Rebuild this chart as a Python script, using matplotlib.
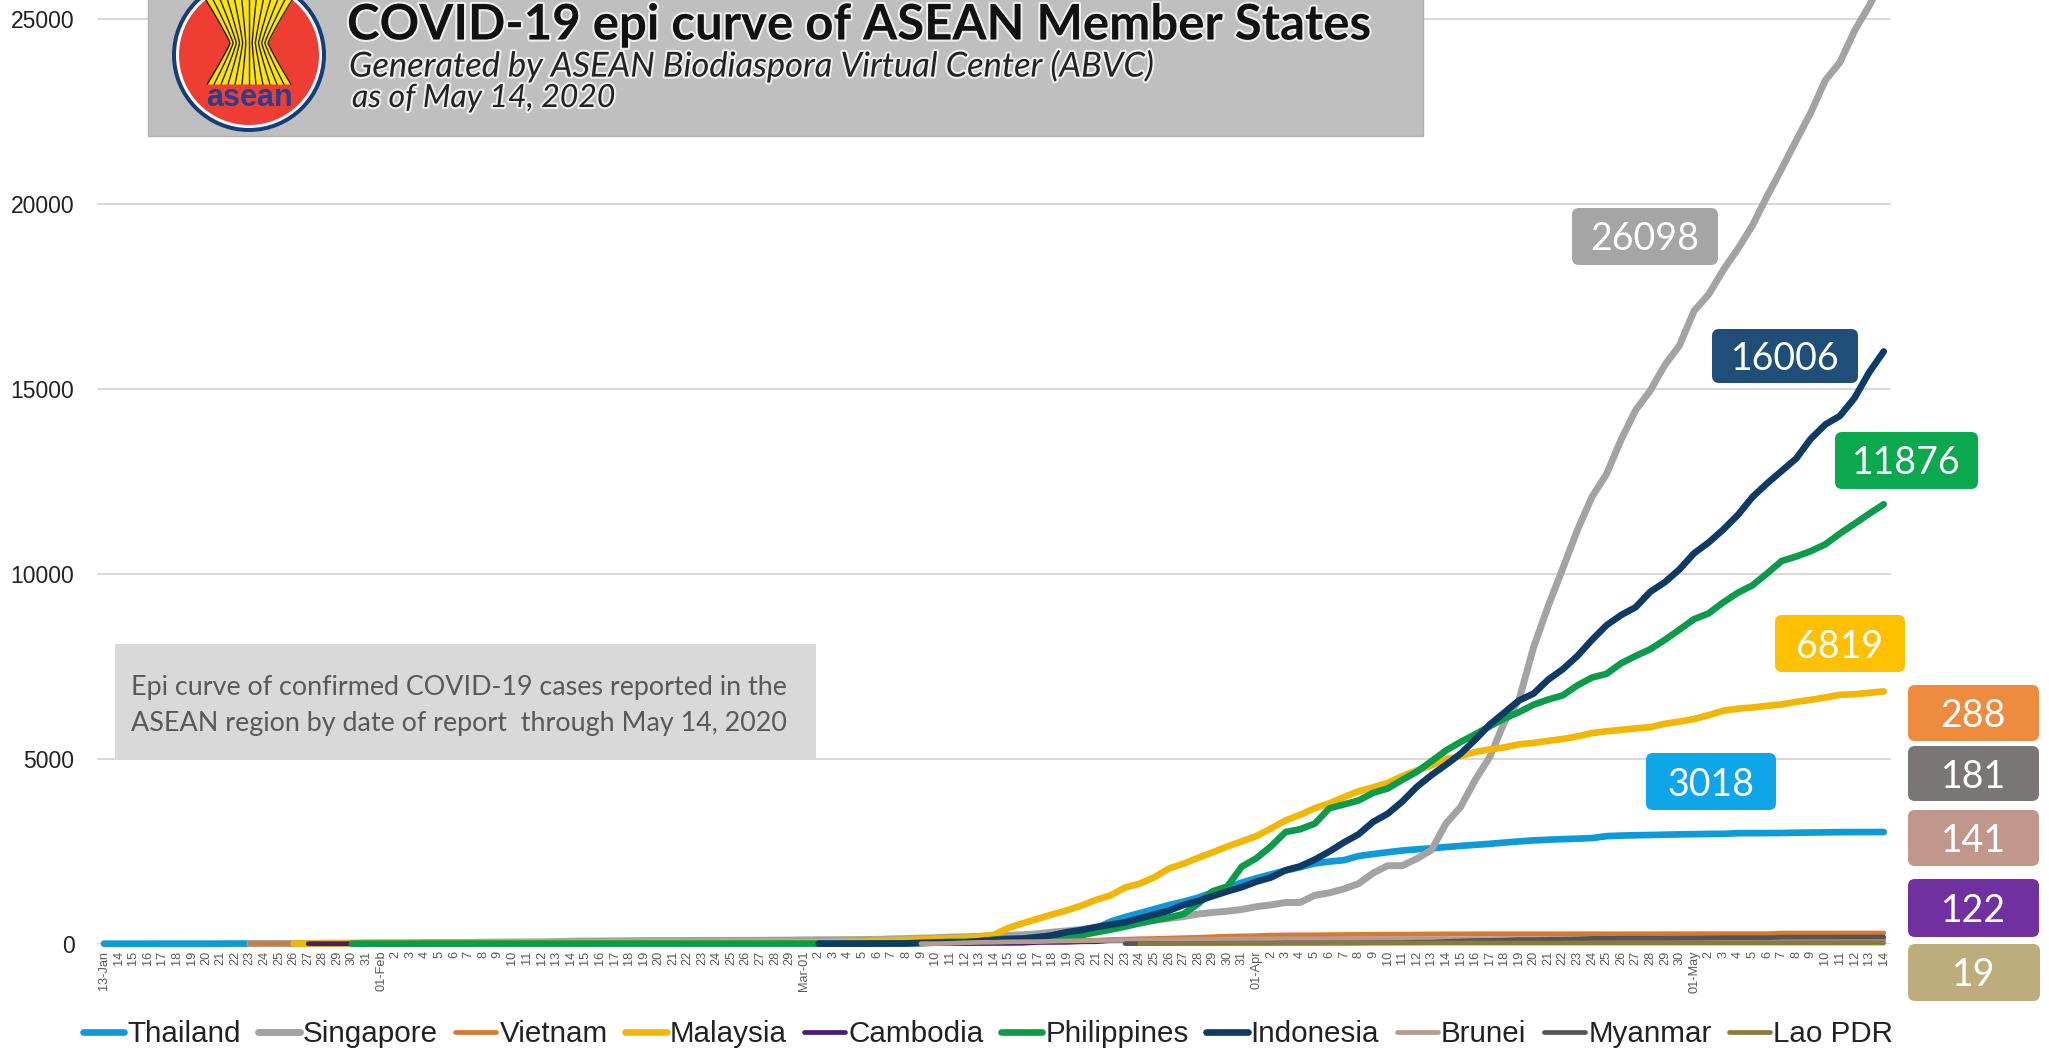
import numpy as np
import matplotlib
matplotlib.use('Agg')
import matplotlib.pyplot as plt
import matplotlib.patheffects as pe
from matplotlib.patches import Circle, FancyBboxPatch, Rectangle

W, H = 2049, 1052
N_DAYS = 123

# tick labels, one per day from 13 Jan to 14 May
jan_days = ['13-Jan'] + [str(d) for d in range(14, 32)]
feb_days = ['01-Feb'] + [str(d) for d in range(2, 30)]
mar_days = ['Mar-01'] + [str(d) for d in range(2, 32)]
apr_days = ['01-Apr'] + [str(d) for d in range(2, 31)]
may_days = ['01-May'] + [str(d) for d in range(2, 15)]
day_labels = jan_days + feb_days + mar_days + apr_days + may_days

y_ticks = [0, 5000, 10000, 15000, 20000, 25000]

# cumulative cases, each list runs up to 14 May
thailand = [1, 1, 1, 1, 2, 2, 2, 2, 2, 4, 4, 5, 7, 8, 8, 14, 14, 14, 19,
            19, 19, 19, 25, 25, 25, 25, 32, 32, 32, 33, 33, 33, 33, 34, 34, 35, 35, 35, 35, 35, 35, 35, 37, 37, 40, 40, 41, 42,
            42, 43, 43, 43, 47, 48, 50, 50, 50, 53, 59, 70, 75, 82, 114, 147, 177, 212, 272, 322, 411, 599, 721, 827, 934, 1045, 1136, 1245, 1388, 1524, 1651,
            1771, 1875, 1978, 2067, 2169, 2220, 2258, 2369, 2423, 2473, 2518, 2551, 2579, 2613, 2643, 2672, 2700, 2733, 2765, 2792, 2811, 2826, 2839, 2854, 2907, 2922, 2931, 2938, 2947, 2954,
            2960, 2966, 2969, 2987, 2988, 2989, 2992, 3000, 3004, 3009, 3015, 3017, 3017, 3018]
singapore = [1, 3, 3, 4, 5, 7, 7, 10, 13,
             16, 18, 18, 24, 28, 30, 33, 40, 43, 45, 47, 50, 58, 67, 72, 75, 77, 81, 84, 84, 85, 86, 89, 89, 90, 91, 93, 96, 98,
             102, 106, 108, 110, 112, 117, 130, 138, 150, 160, 178, 187, 200, 212, 226, 243, 266, 313, 345, 385, 432, 455, 509, 558, 631, 683, 732, 802, 844, 879, 926,
             1000, 1049, 1114, 1114, 1309, 1375, 1481, 1623, 1910, 2108, 2108, 2299, 2532, 3252, 3699, 4427, 5050, 5992, 6588, 8014, 9125, 10141, 11178, 12075, 12693, 13624, 14423, 14951, 15641, 16169,
             17101, 17548, 18205, 18778, 19410, 20198, 20939, 21707, 22460, 23336, 23822, 24671, 25346, 26098]
vietnam = [2, 2, 2, 2, 2, 2, 2, 2, 5,
           6, 6, 8, 9, 10, 12, 12, 13, 14, 14, 15, 15, 16, 16, 16, 16, 16, 16, 16, 16, 16, 16, 16, 16, 16, 16, 16, 16, 16,
           16, 16, 16, 16, 16, 16, 18, 21, 30, 31, 38, 39, 47, 53, 57, 61, 66, 76, 85, 91, 94, 113, 123, 134, 141, 153, 163, 174, 188, 203, 212,
           218, 233, 237, 240, 241, 245, 249, 251, 255, 257, 258, 262, 265, 266, 267, 268, 268, 268, 268, 268, 268, 268, 268, 268, 268, 268, 268, 268, 270, 270,
           270, 271, 271, 271, 271, 271, 288, 288, 288, 288, 288, 288, 288, 288]
malaysia = [4, 4, 4, 7, 7, 8,
            8, 8, 8, 10, 12, 14, 14, 16, 17, 18, 18, 18, 18, 18, 19, 22, 22, 22, 22, 22, 22, 22, 22, 22, 22, 22, 23, 25, 25,
            29, 29, 36, 50, 55, 83, 93, 99, 117, 129, 149, 158, 197, 238, 428, 553, 673, 790, 900, 1030, 1183, 1306, 1518, 1624, 1796, 2031, 2161, 2320, 2470, 2626, 2766,
            2908, 3116, 3333, 3483, 3662, 3793, 3963, 4119, 4228, 4346, 4530, 4683, 4817, 4987, 5072, 5182, 5251, 5305, 5389, 5425, 5482, 5532, 5603, 5691, 5742, 5780, 5820, 5851, 5945, 6002,
            6071, 6176, 6298, 6353, 6383, 6428, 6467, 6535, 6589, 6656, 6726, 6742, 6779, 6819]
cambodia = [1, 1, 1, 1, 1,
            1, 1, 1, 1, 1, 1, 1, 1, 1, 1, 1, 1, 1, 1, 1, 1, 1, 1, 1, 1, 1, 1, 1, 1, 1, 1, 1, 1, 1,
            1, 1, 1, 1, 1, 1, 2, 2, 2, 3, 3, 5, 5, 7, 7, 12, 33, 35, 37, 51, 53, 84, 87, 91, 96, 96, 99, 103, 107, 107, 109,
            110, 110, 114, 114, 114, 115, 115, 117, 119, 119, 120, 122, 122, 122, 122, 122, 122, 122, 122, 122, 122, 122, 122, 122, 122, 122, 122, 122, 122, 122,
            122, 122, 122, 122, 122, 122, 122, 122, 122, 122, 122, 122, 122, 122]
philippines = [1, 1,
               1, 2, 2, 2, 3, 3, 3, 3, 3, 3, 3, 3, 3, 3, 3, 3, 3, 3, 3, 3, 3, 3, 3, 3, 3, 3, 3, 3, 3,
               3, 3, 3, 3, 3, 5, 6, 10, 20, 33, 49, 52, 64, 111, 140, 142, 187, 202, 217, 230, 307, 380, 462, 552, 636, 707, 803, 1075, 1418, 1546, 2084,
               2311, 2633, 3018, 3094, 3246, 3660, 3764, 3870, 4076, 4195, 4428, 4648, 4932, 5223, 5453, 5660, 5878, 6087, 6259, 6459, 6599, 6710, 6981, 7192, 7294, 7579, 7777, 7958, 8212, 8488,
               8772, 8928, 9223, 9485, 9684, 10004, 10343, 10463, 10610, 10794, 11086, 11350, 11618, 11876]
indonesia = [2, 2, 2, 2, 4, 4, 6, 19, 27, 34, 34, 69, 96, 117, 134, 172, 227, 311, 369, 450, 514, 579, 686, 790, 893, 1046, 1155, 1285, 1414, 1528,
             1677, 1790, 1986, 2092, 2273, 2491, 2738, 2956, 3293, 3512, 3842, 4241, 4557, 4839, 5136, 5516, 5923, 6248, 6575, 6760, 7135, 7418, 7775, 8211, 8607, 8882, 9096, 9511, 9771, 10118,
             10551, 10843, 11192, 11587, 12071, 12438, 12776, 13112, 13645, 14032, 14265, 14749, 15438, 16006]
brunei = [1, 1, 11, 25, 37, 40, 50, 54, 56, 68, 75, 78, 83, 88, 91, 104, 109, 114, 115, 120, 120, 126, 127,
          129, 131, 133, 134, 135, 135, 135, 135, 135, 136, 136, 136, 136, 136, 136, 136, 136, 138, 138, 138, 138, 138, 138, 138, 138, 138, 138, 138, 138, 138,
          138, 138, 138, 138, 138, 141, 141, 141, 141, 141, 141, 141, 141, 141]
myanmar = [2, 3, 5, 8, 8, 10, 10, 14, 14,
           15, 15, 20, 21, 21, 22, 22, 22, 27, 27, 28, 39, 41, 62, 74, 85, 88, 94, 111, 111, 119, 121, 127, 144, 144, 146, 146, 146, 146, 150,
           151, 155, 161, 161, 161, 161, 176, 177, 178, 178, 180, 180, 180, 181]
lao = [2, 3, 6, 6, 8, 8, 9, 10,
       10, 10, 10, 11, 11, 12, 12, 15, 16, 16, 16, 16, 18, 19, 19, 19, 19, 19, 19, 19, 19, 19, 19, 19, 19, 19, 19, 19, 19, 19,
       19, 19, 19, 19, 19, 19, 19, 19, 19, 19, 19, 19, 19, 19]

# name, values, first day index, colour, line width
series = [
    ('Thailand', thailand, 0, '#0E9AD8', 4.8),
    ('Singapore', singapore, 10, '#A3A3A3', 5.0),
    ('Vietnam', vietnam, 10, '#D9782F', 3.4),
    ('Malaysia', malaysia, 13, '#F2B705', 4.8),
    ('Cambodia', cambodia, 14, '#4B1A72', 3.4),
    ('Philippines', philippines, 17, '#0B9C49', 4.8),
    ('Indonesia', indonesia, 49, '#0E3A66', 4.8),
    ('Brunei', brunei, 56, '#B89A90', 3.4),
    ('Myanmar', myanmar, 70, '#555555', 3.4),
    ('Lao PDR', lao, 71, '#8C7A3C', 3.4),
]

plt.rcParams['font.family'] = ['Liberation Sans', 'DejaVu Sans']
fig = plt.figure(figsize=(W / 100, H / 100), dpi=100, facecolor='white')
ax = fig.add_axes([96.7 / W, (H - 943.7) / H, (1891 - 96.7) / W, 943.7 / H])

handles = []
for name, values, start, color, lw in series:
    assert start + len(values) == N_DAYS, name
    days = np.arange(start, N_DAYS)
    line, = ax.plot(days, values, color=color, lw=lw, label=name, clip_on=False,
                    solid_capstyle='round', solid_joinstyle='round', zorder=3)
    handles.append(line)

ax.set_xlim(-0.5, N_DAYS - 0.5)
ax.set_ylim(0, 25505)
ax.set_xticks(np.arange(N_DAYS))
ax.set_xticklabels(day_labels, rotation=90, fontsize=9.2, color='#595959')
ax.set_yticks(y_ticks)
ax.set_yticklabels([str(v) for v in y_ticks], fontsize=16.5, color='#222222')
ax.tick_params(axis='both', length=0)
ax.tick_params(axis='x', pad=5)
ax.tick_params(axis='y', pad=16)
ax.grid(axis='y', color='#D2D2D2', lw=1.2)
ax.set_axisbelow(True)
for s in ax.spines.values():
    s.set_visible(False)

fig.legend(handles=handles, loc='center', bbox_to_anchor=(988 / W, 1 - 1034 / H), ncol=10,
           frameon=False, fontsize=21.3, handlelength=1.4, handletextpad=0.1,
           columnspacing=0.59, borderpad=0, labelcolor='#222222')

# overlay in pixel coordinates for banner, logo and value boxes
ov = fig.add_axes([0, 0, 1, 1], facecolor='none')
ov.set_xlim(0, W)
ov.set_ylim(H, 0)
ov.axis('off')

ov.add_patch(Rectangle((148, -5), 1275, 141, fc='#BFBFBF', ec='#B0B0B0', lw=1))

# logo
cx, cy = 249, 55
ov.add_patch(Circle((cx, cy), 77, fc='#123E7C', ec='none'))
ov.add_patch(Circle((cx, cy), 73, fc='white', ec='none'))
ov.add_patch(Circle((cx, cy), 70, fc='#EE3D33', ec='none'))
yy = np.linspace(-5, 84, 60)
half = 19 + 24 * np.abs((yy - 43) / 43) ** 1.1
ov.fill_betweenx(yy, cx - half, cx + half, color='#FFE600', lw=0)
for k in np.linspace(-1, 1, 13):
    ov.plot(cx + k * half, yy, color='#222222', lw=1.0)
ov.text(cx, 98, 'asean', ha='center', va='center', fontsize=22, fontweight='bold',
        color='#24408E', family='Liberation Sans')

glow = [pe.withStroke(linewidth=3, foreground='white', alpha=0.75)]
ov.text(347, 25, 'COVID-19 epi curve of ASEAN Member States', fontsize=35.4, fontweight='bold',
        family='Lato', color='#111111', va='center', path_effects=glow)
ov.text(349, 66, 'Generated by ASEAN Biodiaspora Virtual Center (ABVC)', fontsize=24.8, style='italic',
        family='Lato', color='#222222', va='center', path_effects=glow)
ov.text(352, 98, 'as of May 14, 2020', fontsize=23, style='italic',
        family='Lato', color='#222222', va='center', path_effects=glow)

# note box
ov.add_patch(Rectangle((115, 644), 701, 114, fc='#D9D9D9', ec='none'))
ov.text(131, 688, 'Epi curve of confirmed COVID-19 cases reported in the', fontsize=19.35,
        family='Lato', color='#595959', va='center')
ov.text(131, 724, 'ASEAN region by date of report  through May 14, 2020', fontsize=19.35,
        family='Lato', color='#595959', va='center')

# value boxes: x0, x1, y0, y1, colour, series
boxes = [
    (1572, 1718, 208, 265, '#A5A5A5', singapore),
    (1712, 1858, 329, 383, '#1F4E79', indonesia),
    (1835, 1978, 432, 489, '#0AA84F', philippines),
    (1775, 1905, 615, 672, '#FFC000', malaysia),
    (1646, 1776, 753, 810, '#0FA5E9', thailand),
    (1908, 2039, 685, 741, '#ED8B3F', vietnam),
    (1908, 2039, 746, 801, '#7B7676', myanmar),
    (1908, 2039, 810, 866, '#C2978B', brunei),
    (1908, 2039, 879, 937, '#7030A0', cambodia),
    (1908, 2040, 944, 1001, '#BDAD7C', lao),
]
for x0, x1, y0, y1, color, values in boxes:
    ov.add_patch(FancyBboxPatch((x0 + 7, y0 + 7), x1 - x0 - 14, y1 - y0 - 14,
                                boxstyle='round,pad=7,rounding_size=7', fc=color, ec='none'))
    ov.text((x0 + x1) / 2, (y0 + y1) / 2 + 3, str(values[-1]), ha='center', va='center',
            fontsize=27, family='Lato', color='white')

fig.savefig('out.png', dpi=100)
